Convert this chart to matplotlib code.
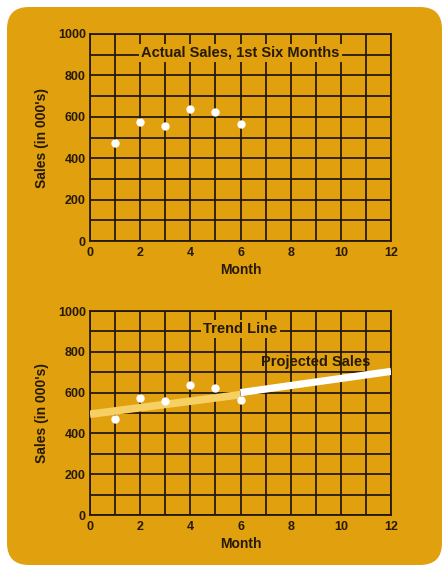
import matplotlib
matplotlib.use("Agg")
import matplotlib.pyplot as plt
from matplotlib.patches import FancyBboxPatch
from matplotlib import font_manager

months = [1, 2, 3, 4, 5, 6]
sales = [472, 574, 557, 636, 624, 564]
trend_x = [0, 6]
trend_y = [494, 590]
proj_x = [6, 12]
proj_y = [600, 704]
x_ticks = [0, 2, 4, 6, 8, 10, 12]
y_ticks = [0, 200, 400, 600, 800, 1000]
title_top = "Actual Sales, 1st Six Months"
title_bottom = "Trend Line"
proj_label = "Projected Sales"
xlabel = "Month"
ylabel = "Sales (in 000's)"

names = {f.name for f in font_manager.fontManager.ttflist}
fam = ["Liberation Sans Narrow", "DejaVu Sans"] if "Liberation Sans Narrow" in names else ["Liberation Sans", "DejaVu Sans"]
plt.rcParams["font.family"] = fam

ORANGE = "#E1A00D"
DARK = "#261905"
LIGHT = "#F6D064"

fig = plt.figure(figsize=(4.42, 5.66), dpi=100)
fig.patch.set_facecolor("white")

bg = fig.add_axes([0, 0, 1, 1])
bg.set_xlim(0, 442)
bg.set_ylim(566, 0)
bg.axis("off")
bg.add_patch(FancyBboxPatch((7, 7), 435, 558, boxstyle="round,pad=0,rounding_size=22",
                            facecolor=ORANGE, edgecolor="none"))


def setup(ax):
    ax.set_facecolor("none")
    ax.set_xlim(0, 12)
    ax.set_ylim(0, 1000)
    ax.set_xticks(x_ticks)
    ax.set_yticks(y_ticks)
    ax.set_xticks(range(0, 13), minor=True)
    ax.set_yticks(range(0, 1001, 100), minor=True)
    ax.grid(which="both", color=DARK, linewidth=1.3)
    ax.tick_params(which="both", length=0, colors=DARK, labelsize=9)
    ax.tick_params(axis="x", pad=4)
    ax.tick_params(axis="y", pad=3)
    for lab in ax.get_xticklabels() + ax.get_yticklabels():
        lab.set_fontweight("bold")
    for s in ax.spines.values():
        s.set_color(DARK)
        s.set_linewidth(1.3)
    ax.set_xlabel(xlabel, fontsize=10, fontweight="bold", color=DARK, labelpad=3)
    ax.set_ylabel(ylabel, fontsize=10, fontweight="bold", color=DARK, labelpad=6)
    ax.set_axisbelow(True)


ax1 = fig.add_axes([90 / 442, (566 - 241) / 566, 301 / 442, 207 / 566])
setup(ax1)
ax1.plot(months, sales, "o", color="white", markersize=5, zorder=5)
ax1.text(6, 910, title_top, ha="center", va="center", fontsize=10.5, fontweight="bold",
         color=DARK, zorder=6,
         bbox=dict(facecolor=ORANGE, edgecolor="none", pad=1.5))

ax2 = fig.add_axes([90 / 442, (566 - 515) / 566, 301 / 442, 204 / 566])
setup(ax2)
ax2.plot(trend_x, trend_y, color=LIGHT, linewidth=5.5, solid_capstyle="butt", zorder=3)
ax2.plot(proj_x, proj_y, color="white", linewidth=5.2, solid_capstyle="butt", zorder=4)
ax2.plot(months, sales, "o", color="white", markersize=5, zorder=5)
ax2.text(6, 912, title_bottom, ha="center", va="center", fontsize=10.5, fontweight="bold",
         color=DARK, zorder=6,
         bbox=dict(facecolor=ORANGE, edgecolor="none", pad=1.5))
ax2.text(9.0, 752, proj_label, ha="center", va="center", fontsize=10.5, fontweight="bold",
         color=DARK, zorder=6)

fig.savefig("out.png", dpi=100, facecolor="white")
